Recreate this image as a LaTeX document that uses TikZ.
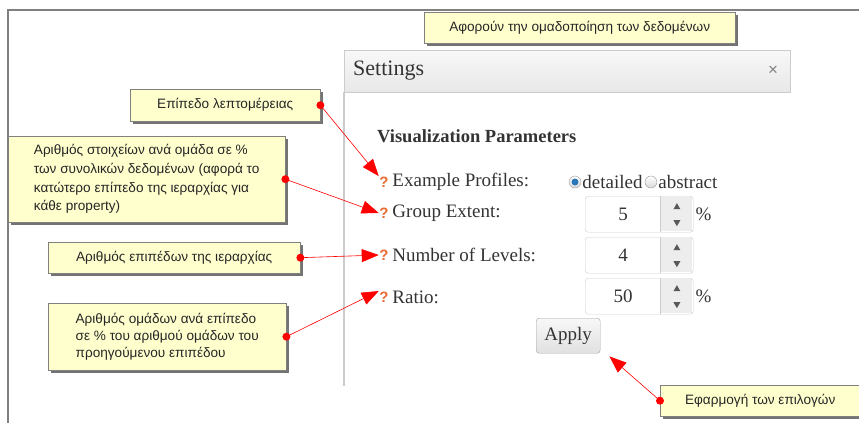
\documentclass[tikz,border=0pt]{standalone}
\usepackage{fontspec}
\setmainfont{Liberation Serif}
\newfontfamily\notefont{Liberation Sans}
\usetikzlibrary{positioning,arrows.meta,shapes.geometric,shadows}

\definecolor{noteyellow}{RGB}{255,255,206}
\definecolor{noteborder}{RGB}{128,128,128}
\definecolor{uitext}{RGB}{51,51,51}
\definecolor{qorange}{RGB}{232,106,50}
\definecolor{uiline}{RGB}{204,204,204}
\definecolor{radioblue}{RGB}{40,120,185}

\tikzstyle{note} = [
draw=noteborder,
fill=noteyellow,
font=\notefont\fontsize{13.6}{18.7}\selectfont,
text=black!85,
align=left,
inner sep=0pt,
drop shadow={shadow xshift=2.5pt,shadow yshift=-2.5pt,fill=black!55,opacity=1}
]
\tikzstyle{arrow} = [
red,
line width=0.6pt,
-{Triangle[length=17pt,width=13pt]}
]

\begin{document}
\begin{tikzpicture}[
			x=1pt,y=-1pt,
			header/.style={
				draw=uiline,
				top color=white!97!black,
				bottom color=white!91!black,
				minimum width=446pt,
				minimum height=42pt,
				inner sep=0pt
			},
			param/.style={
				text=uitext,
				inner sep=1pt,
				font=\fontsize{19}{21}\selectfont
			},
			qmark/.style={
				text=qorange,
				inner sep=0.5pt,
				font=\notefont\bfseries\fontsize{15}{15}\selectfont
			},
			radio/.style={
				circle,
				draw=gray!80,
				inner sep=0pt,
				minimum size=12pt,
				top color=white,
				bottom color=gray!30
			},
			spin/.style={
				draw=uiline,
				fill=white,
				rounded corners=3pt,
				minimum width=108pt,
				minimum height=36pt,
				inner sep=0pt
			},
			tri/.style={
				regular polygon,
				regular polygon sides=3,
				fill=black!65,
				inner sep=0pt,
				minimum size=8pt
			},
			button/.style={
				draw=uiline!80!black,
				rounded corners=3pt,
				top color=white!97!black,
				bottom color=white!88!black,
				minimum width=64pt,
				minimum height=35pt,
				text=uitext,
				font=\fontsize{19}{21}\selectfont
			}
			]
			\useasboundingbox (0,0) rectangle (859,423);
			
			% Frame
			\draw[gray,line width=1.6pt] (8,423) -- (8,10) -- (859,10);
			
			% Dialog
			\node[header, anchor=north west] (head) at (344,50) {};
			\node[param, anchor=west, font=\fontsize{22}{24}\selectfont] (title) at (352,71) {Settings};
			\node[text=gray, font=\notefont\fontsize{17}{17}\selectfont] (close) at (773,71) {×};
			\coordinate (foot) at (344,386);
			\draw[uiline,line width=1.5pt] (head.south west) -- (foot);
			\node[param, anchor=west, font=\bfseries\fontsize{18.5}{20}\selectfont] (vp) at (376,136) {Visualization Parameters};
			
			\foreach \nm/\y/\txt in {q1/182/Example Profiles:,q2/213/Group Extent:,q3/255/Number of Levels:,q4/297/Ratio:}{
				\node[qmark] (\nm) at (384,\y) {?};
				\node[param, right=2pt of \nm] {\txt};
			}
			
			% Radio buttons
			\node[radio] (r1) at (575,182) {};
			\fill[radioblue] (r1) circle[radius=3.5pt];
			\node[param, right=0pt of r1] (det) {detailed};
			\node[radio, right=1pt of det] (r2) {};
			\node[param, right=0pt of r2] (abs) {abstract};
			
			% Spinners
			\foreach \nm/\y/\v in {sp1/196/5,sp2/237/4,sp3/278/50}{
				\node[spin, anchor=north west] (\nm) at (585,\y) {};
				\fill[white!93!black] ([xshift=-33pt,yshift=-1pt]\nm.north east) rectangle ([xshift=-1.5pt,yshift=1pt]\nm.south east);
				\draw[uiline] ([xshift=-33pt]\nm.north east) -- ([xshift=-33pt]\nm.south east);
				\node[param] at ([xshift=38pt]\nm.west) {\v};
				\node[tri] at ([xshift=-16.5pt,yshift=7pt]\nm.east) {};
				\node[tri, rotate=180] at ([xshift=-16.5pt,yshift=-8pt]\nm.east) {};
			}
			\node[param, right=1pt of sp1] (pc1) {\%};
			\node[param, right=1pt of sp3] (pc3) {\%};
			
			\node[button, anchor=north west] (apply) at (536,318) {Apply};
			
			% Notes
			\node[note, anchor=north west, minimum width=311pt, minimum height=31pt] (group) at (424,12) {Αφορούν την ομαδοποίηση των δεδομένων};
			\node[note, anchor=north west, minimum width=190pt, minimum height=32pt] (lvl) at (130,89) {Επίπεδο λεπτομέρειας};
			\node[note, anchor=north west, minimum width=277pt, minimum height=86pt] (ext) at (8,136) {Αριθμός στοιχείων ανά ομάδα σε \%\\των συνολικών δεδομένων (αφορά το\\κατώτερο επίπεδο της ιεραρχίας για\\κάθε property)};
			\node[note, anchor=north west, minimum width=252pt, minimum height=31pt] (num) at (48,242) {Αριθμός επιπέδων της ιεραρχίας};
			\node[note, anchor=north west, minimum width=238pt, minimum height=67pt, font=\notefont\fontsize{13.6}{17}\selectfont] (rat) at (48,303) {Αριθμός ομάδων ανά επίπεδο\\σε \% του αριθμού ομάδων του\\προηγούμενου επιπέδου};
			\node[note, anchor=north west, minimum width=200pt, minimum height=31pt] (app) at (660,385) {Εφαρμογή των επιλογών};
			
			% Arrows
			\draw[arrow] (lvl.east) -- (q1.north west);
			\draw[arrow] (ext.east) -- (q2.west);
			\draw[arrow] (num.east) -- (q3.west);
			\draw[arrow] (rat.east) -- (q4.north west);
			\draw[arrow] (app.west) -- ([xshift=9pt,yshift=-3pt]apply.south east);
			\foreach \n in {lvl,ext,num,rat}
				\fill[red] (\n.east) circle[radius=4pt];
			\fill[red] (app.west) circle[radius=4pt];
			
		\end{tikzpicture}
\end{document}
